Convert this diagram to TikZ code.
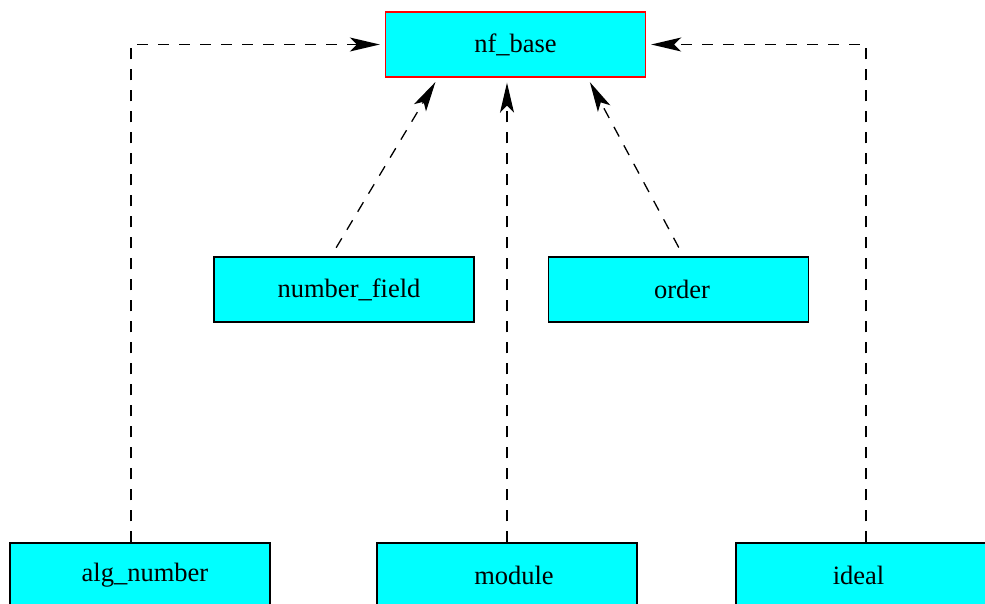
\documentclass[tikz,border=0pt]{standalone}
\usepackage{fontspec}
\setmainfont{Liberation Serif}
\usetikzlibrary{arrows.meta,calc}
\definecolor{boxcyan}{HTML}{00FFFF}
\tikzset{
  box/.style={draw=black, fill=boxcyan, line width=1.4pt, minimum width=260pt, minimum height=65pt, inner sep=0pt, font=\fontsize{26.5}{29}\selectfont},
  dep/.style={draw=black, line width=1.3pt, dash pattern=on 11pt off 10pt, -{Stealth[length=30pt,width=14pt,inset=7pt]}, shorten >=5pt}
}
\begin{document}
\begin{tikzpicture}[x=1pt,y=-1pt]
\useasboundingbox (0,0) rectangle (985,603);
\node[box, draw=red] (nf_base) at (515.5,44.5) {nf\_base};
\node[box] (number_field) at (344,289.5) {\hspace*{10pt}number\_field};
\node[box] (order) at (678.5,289.5) {\hspace*{7pt}order};
\node[box] (alg_number) at (140,575.5) {\hspace*{10pt}alg\_number};
\node[box] (module) at (507,575.5) {\hspace*{14pt}module};
\node[box] (ideal) at (866,575.5) {ideal\hspace*{15pt}};
\coordinate (an) at ($(alg_number.north)+(-9,0)$);
\draw[dep] (an) -- (an |- nf_base.west) -- (nf_base.west);
\draw[dep] (ideal.north) -- (ideal.north |- nf_base.east) -- (nf_base.east);
\draw[dep] (module.north) -- (module.north |- nf_base.south);
\draw[dep, shorten <=10pt] ($(number_field.north)+(-13,0)$) -- ($(nf_base.south)+(-77.5,0)$);
\draw[dep, shorten <=10pt] ($(order.north)+(5,0)$) -- ($(nf_base.south)+(72,0)$);
\end{tikzpicture}
\end{document}
